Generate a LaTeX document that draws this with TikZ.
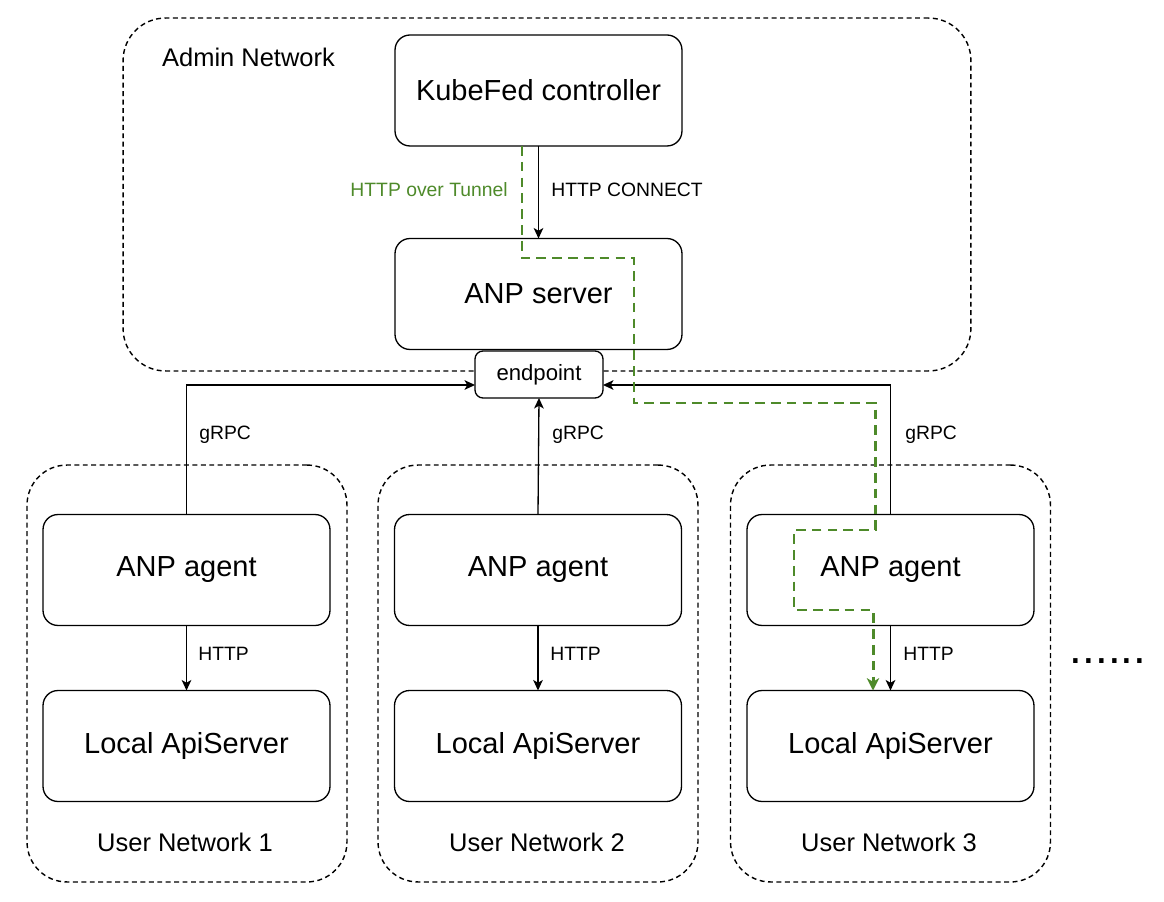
\documentclass[tikz,border=0pt]{standalone}
\usepackage{fontspec}
\setmainfont{Liberation Sans}
\usetikzlibrary{arrows.meta,calc}
\definecolor{tunnelgreen}{HTML}{4E8A2A}
\tikzset{
  px/.style={x=0.02cm,y=-0.02cm},
  netbox/.style={draw=black, line width=0.8pt, dash pattern=on 2.8pt off 2pt, rounded corners=0.85cm, inner sep=0, outer sep=0},
  compbox/.style={draw=black, fill=white, line width=0.75pt, rounded corners=0.3cm, inner sep=0, outer sep=0, minimum width=5.74cm, minimum height=2.22cm, font=\fontsize{16.5}{19}\selectfont},
  epbox/.style={draw=black, fill=white, line width=0.75pt, rounded corners=0.16cm, inner sep=0, outer sep=0, minimum width=2.56cm, minimum height=0.94cm, font=\fontsize{12.6}{14}\selectfont},
  lbl/.style={font=\fontsize{11}{13}\selectfont, inner sep=0},
  netlbl/.style={font=\fontsize{14.5}{17}\selectfont, inner sep=0},
  conn/.style={draw=black, line width=0.75pt, -{Stealth[length=6pt,width=5.5pt,inset=1.6pt]}},
  tunnel/.style={draw=tunnelgreen, line width=1.7pt, dash pattern=on 5.5pt off 3.5pt, -{Stealth[length=7pt,width=7pt,inset=2pt]}},
}
\begin{document}
\begin{tikzpicture}[px]
\useasboundingbox (0,0) rectangle (1164,902);
% network areas
\node[netbox, minimum width=16.96cm, minimum height=7.06cm] (admin) at (547,194.5) {};
\node[netbox, rounded corners=0.8cm, minimum width=6.4cm, minimum height=8.34cm] (un1) at (187,673.5) {};
\node[netbox, rounded corners=0.8cm, minimum width=6.4cm, minimum height=8.34cm] (un2) at (538,673.5) {};
\node[netbox, rounded corners=0.8cm, minimum width=6.4cm, minimum height=8.34cm] (un3) at (890.5,673.5) {};
\node[netlbl] (adminlbl) at (248.5,57) {Admin Network};
\node[netlbl] (un1lbl) at (185,842) {User Network 1};
\node[netlbl] (un2lbl) at (537,842) {User Network 2};
\node[netlbl] (un3lbl) at (889,842) {User Network 3};
% components
\node[compbox] (kf) at (538.5,90.5) {KubeFed controller};
\node[compbox] (srv) at (538.5,294) {ANP server};
\node[epbox] (ep) at (539,374.5) {endpoint};
\node[compbox] (ag1) at (186.5,570) {ANP agent};
\node[compbox] (ag2) at (538,570) {ANP agent};
\node[compbox] (ag3) at (890.5,570) {ANP agent};
\node[compbox] (la1) at (186.5,746) {Local ApiServer};
\node[compbox] (la2) at (538,746) {Local ApiServer};
\node[compbox] (la3) at (890.5,746) {Local ApiServer};
% connectors
\draw[conn] (kf.south) -- (srv.north);
\node[lbl, anchor=west] (hc) at (551,190) {HTTP CONNECT};
\node[lbl, anchor=east, text=tunnelgreen] (hot) at (508,190) {HTTP over Tunnel};
\coordinate (epl) at ($(ep.west)+(0,10.5)$);
\coordinate (epr) at ($(ep.east)+(0,10.5)$);
\draw[conn] (ag1.north) |- (epl);
\draw[conn] (ag2.north) -- (ep.south);
\draw[conn] (ag3.north) |- (epr);
\node[lbl, anchor=west] (g1) at (199,435) {gRPC};
\node[lbl, anchor=west] (g2) at (552,435) {gRPC};
\node[lbl, anchor=west] (g3) at (905,435) {gRPC};
\draw[conn] (ag1.south) -- (la1.north);
\draw[conn] (ag2.south) -- (la2.north);
\draw[conn] (ag3.south) -- (la3.north);
\node[lbl, anchor=west] (h1) at (198,654) {HTTP};
\node[lbl, anchor=west] (h2) at (550,654) {HTTP};
\node[lbl, anchor=west] (h3) at (903,654) {HTTP};
% tunnel path
\coordinate (ts) at ($(kf.south)+(-16.5,0)$);
\coordinate (te) at ($(la3.north)+(-17.5,0)$);
\draw[tunnel] (ts) -- (522,258) -- (634,258) -- (634,403) -- (875,403) -- (875,530) -- (794,530) -- (794,610) -- (873,610) -- (te);
% more networks
\node[font=\fontsize{26}{28}\selectfont, inner sep=0] (more) at (1108,661) {......};
\end{tikzpicture}
\end{document}
